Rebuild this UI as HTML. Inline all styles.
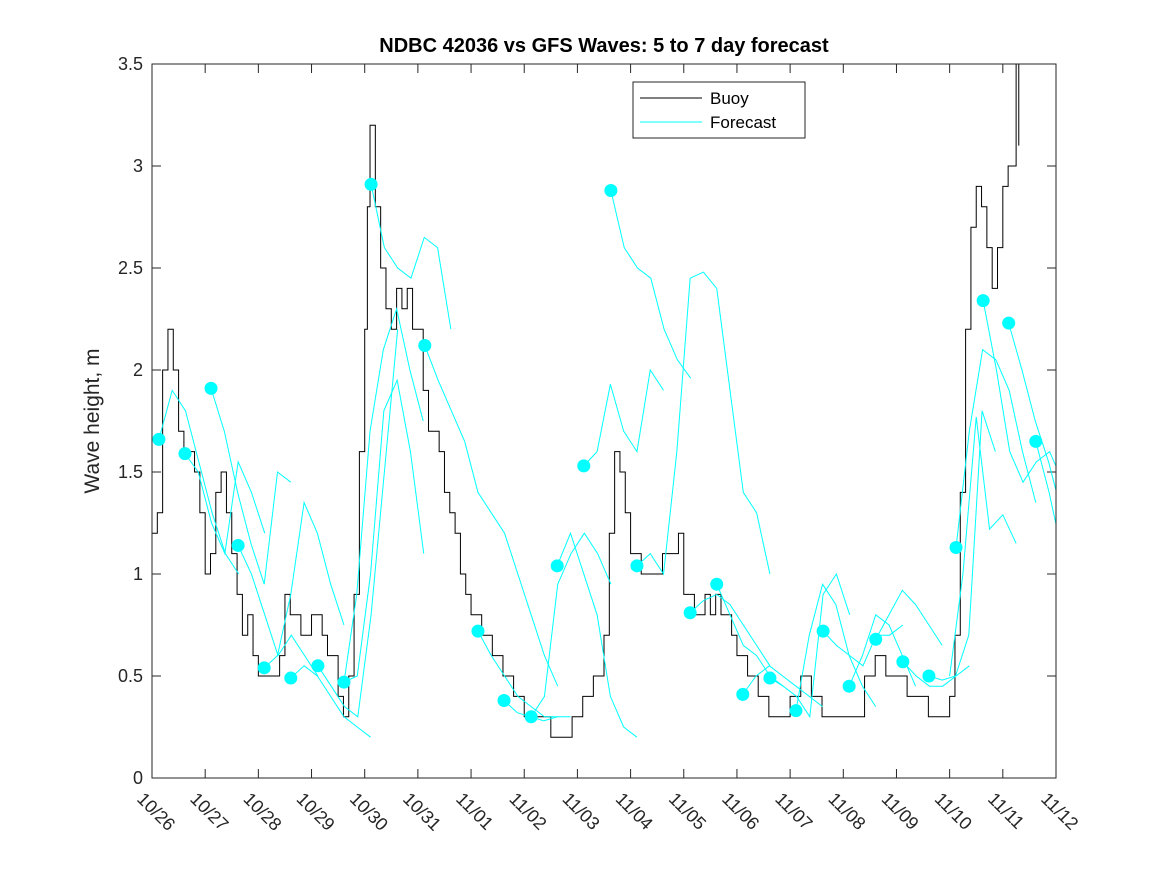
<!DOCTYPE html>
<html><head><meta charset="utf-8"><style>
body{margin:0;background:#fff;}
svg{display:block;font-family:"Liberation Sans","DejaVu Sans",sans-serif;}
</style></head><body>
<svg id="chart" width="1167" height="875" xmlns="http://www.w3.org/2000/svg">
<rect width="1167" height="875" fill="#fff"/>
<text x="604" y="52" text-anchor="middle" font-weight="bold" font-size="20" fill="#000">NDBC 42036 vs GFS Waves: 5 to 7 day forecast</text>
<text transform="translate(99,421) rotate(-90)" text-anchor="middle" font-size="21" fill="#262626">Wave height, m</text>
<g id="plot"></g>
</svg>
<script>
const xTickLabels=["10/26","10/27","10/28","10/29","10/30","10/31","11/01","11/02","11/03","11/04","11/05","11/06","11/07","11/08","11/09","11/10","11/11","11/12"];
const yTicks=[0,0.5,1,1.5,2,2.5,3,3.5];
const yTickLabels=["0","0.5","1","1.5","2","2.5","3","3.5"];
const buoyDays=[0,0.1,0.2,0.3,0.4,0.5,0.6,0.7,0.8,0.9,1.0,1.1,1.2,1.3,1.4,1.5,1.6,1.7,1.8,1.9,2.0,2.2,2.4,2.5,2.6,2.8,3.0,3.2,3.3,3.5,3.6,3.7,3.8,3.9,4.0,4.05,4.1,4.2,4.3,4.4,4.5,4.6,4.7,4.8,4.9,5.0,5.1,5.2,5.4,5.5,5.6,5.7,5.8,5.9,6.0,6.2,6.4,6.6,6.8,7.0,7.2,7.4,7.5,7.7,7.9,8.1,8.3,8.5,8.6,8.7,8.8,8.9,9.0,9.2,9.4,9.6,9.8,9.9,10.0,10.2,10.4,10.5,10.6,10.7,10.8,10.9,11.0,11.2,11.4,11.6,11.8,12.0,12.2,12.4,12.6,12.8,13.0,13.2,13.4,13.6,13.8,14.0,14.2,14.4,14.6,14.8,15.0,15.1,15.2,15.3,15.4,15.5,15.6,15.7,15.8,15.9,16.0,16.1,16.2,16.25,16.3];
const buoyValues=[1.2,1.3,2.0,2.2,2.0,1.7,1.6,1.6,1.5,1.3,1.0,1.1,1.4,1.5,1.3,1.1,0.9,0.7,0.8,0.6,0.5,0.5,0.6,0.9,0.8,0.7,0.8,0.7,0.6,0.4,0.3,0.5,0.9,1.6,2.2,2.8,3.2,2.8,2.5,2.3,2.2,2.4,2.3,2.4,2.2,2.2,1.9,1.7,1.6,1.4,1.3,1.2,1.0,0.9,0.8,0.7,0.6,0.5,0.4,0.3,0.3,0.3,0.2,0.2,0.3,0.4,0.5,0.7,1.2,1.6,1.5,1.3,1.1,1.0,1.0,1.1,1.1,1.2,0.9,0.8,0.9,0.8,0.9,0.8,0.8,0.7,0.6,0.5,0.4,0.3,0.3,0.4,0.5,0.4,0.3,0.3,0.3,0.3,0.5,0.6,0.5,0.5,0.4,0.4,0.3,0.3,0.4,0.7,1.4,2.2,2.7,2.9,2.8,2.6,2.4,2.6,2.9,3.0,3.0,3.5,3.1];
// forecast runs: start day and values every 0.25 day
const forecastStarts=[0.13,0.62,1.11,1.62,2.11,2.61,3.12,3.61,3.6,4.12,5.13,6.13,6.62,7.13,7.62,8.12,8.63,9.12,10.12,10.62,11.11,11.62,12.11,12.62,13.11,13.61,14.12,14.61,15.0,15.12,15.63,16.11,16.62];
const forecastValues=[
[1.66,1.9,1.8,1.55,1.3,1.1,1.0],
[1.59,1.5,1.25,1.1,1.55,1.4,1.2],
[1.91,1.7,1.4,1.15,0.95,1.5,1.45],
[1.14,1.0,0.8,0.6,0.7,0.6,0.5],
[0.54,0.6,0.9,1.35,1.2,0.95,0.75],
[0.49,0.55,0.5,0.4,0.3,0.25,0.2],
[0.55,0.45,0.35,0.3,0.8,1.5,2.2],
[0.47,0.5,1.0,1.8,1.95,1.6,1.1],
[0.45,0.9,1.7,2.1,2.3,2.0,1.75],
[2.91,2.6,2.5,2.45,2.65,2.6,2.2],
[2.12,1.95,1.8,1.65,1.4,1.3,1.2,1.0,0.8,0.6,0.45],
[0.72,0.6,0.5,0.4,0.35,0.3,0.3],
[0.38,0.32,0.3,0.28,0.3,0.3],
[0.30,0.4,0.95,1.1,1.2,1.1,0.95],
[1.04,1.2,1.0,0.8,0.4,0.25,0.2],
[1.53,1.6,1.93,1.7,1.6,2.0,1.9],
[2.88,2.6,2.5,2.45,2.2,2.05,1.96],
[1.04,1.1,1.0,1.6,2.45,2.48,2.4,1.9,1.4,1.3,1.0],
[0.81,0.87,0.9,0.85,0.75,0.65,0.55],
[0.95,0.8,0.65,0.6,0.5,0.45],
[0.41,0.5,0.55,0.5,0.45,0.4,0.35],
[0.49,0.45,0.4,0.3,0.9,1.0,0.8],
[0.33,0.7,0.95,0.85,0.6,0.45,0.35],
[0.72,0.65,0.6,0.55,0.7,0.7,0.75],
[0.45,0.6,0.8,0.75,0.6,0.45],
[0.68,0.8,0.92,0.85,0.75,0.65],
[0.57,0.5,0.45,0.45,0.5,0.55],
[0.50,0.48,0.5,0.7,1.8,1.6],
[0.5,1.0,1.77,1.22,1.29,1.15],
[1.13,1.7,2.1,2.05,1.9,1.6,1.35],
[2.34,2.0,1.6,1.45,1.55,1.6,1.45],
[2.23,2.0,1.75,1.55,1.3,1.0,0.75],
[1.65,1.4,1.1,0.85]];
const dotRuns=[0,1,2,3,4,5,6,7,9,10,11,12,13,14,15,16,17,18,19,20,21,22,23,24,25,26,27,29,30,31,32];

const L=152,R=1056,T=64,B=778;
const xs=d=>L+d*(R-L)/17;
const ys=v=>B-v*(B-T)/3.5;
const NS="http://www.w3.org/2000/svg";
const g=document.getElementById('plot');
function mk(tag,attrs,parent){const e=document.createElementNS(NS,tag);for(const k in attrs)e.setAttribute(k,attrs[k]);(parent||g).appendChild(e);return e;}

const clip=mk('clipPath',{id:'pc'});mk('rect',{x:L,y:T,width:R-L,height:B-T},clip);
const area=mk('rect',{x:L,y:T,width:R-L,height:B-T,fill:'#fff',stroke:'none'});



// ticks
xTickLabels.forEach((lab,i)=>{
  const x=xs(i);
  const t1=mk('line',{x1:x,y1:B,x2:x,y2:B-9,stroke:'#262626'});
  
  
  const t2=mk('line',{x1:x,y1:T,x2:x,y2:T+9,stroke:'#262626'});
  
  
  const tx=mk('text',{transform:`translate(${x-16},${B+22}) rotate(45)`,'font-size':18,fill:'#262626'});
  tx.textContent=lab;
  
  
});
yTicks.forEach((v,i)=>{
  const y=ys(v);
  const t1=mk('line',{x1:L,y1:y,x2:L+9,y2:y,stroke:'#262626'});
  
  
  const t2=mk('line',{x1:R,y1:y,x2:R-9,y2:y,stroke:'#262626'});
  
  
  const tx=mk('text',{x:L-9,y:y+6,'text-anchor':'end','font-size':18,fill:'#262626'});
  tx.textContent=yTickLabels[i];
  
  
});

// buoy step line
let d='';
buoyDays.forEach((day,i)=>{
  const x=xs(day),y=ys(buoyValues[i]);
  if(i===0)d+=`M${x},${y}`;else d+=`H${x}V${y}`;
});
const bl=mk('path',{d:d,fill:'none',stroke:'#000','stroke-width':1,'clip-path':'url(#pc)'});



// forecast lines
forecastStarts.forEach((s,i)=>{
  const pts=forecastValues[i].map((v,j)=>`${xs(s+j*0.25)},${ys(v)}`).join(' ');
  const pl=mk('polyline',{points:pts,fill:'none',stroke:'#00ffff','stroke-width':1,'clip-path':'url(#pc)'});
  
  
});
dotRuns.forEach(i=>{
  const c=mk('circle',{cx:xs(forecastStarts[i]),cy:ys(forecastValues[i][0]),r:6.5,fill:'#00ffff'});
  
  
});

const frame=mk('rect',{x:L,y:T,width:R-L,height:B-T,fill:'none',stroke:'#262626','stroke-width':1});



// legend
const lg=mk('g',{});


mk('rect',{x:633,y:82,width:172,height:56,fill:'#fff',stroke:'#262626'},lg);
const e1=mk('g',{},lg);


mk('line',{x1:640,y1:98,x2:702,y2:98,stroke:'#000'},e1);
const lt1=mk('text',{x:710,y:104,'font-size':17,fill:'#000'},e1);lt1.textContent='Buoy';
const e2=mk('g',{},lg);


mk('line',{x1:640,y1:122,x2:702,y2:122,stroke:'#00ffff'},e2);
const lt2=mk('text',{x:710,y:128,'font-size':17,fill:'#000'},e2);lt2.textContent='Forecast';
</script>
</body></html>
